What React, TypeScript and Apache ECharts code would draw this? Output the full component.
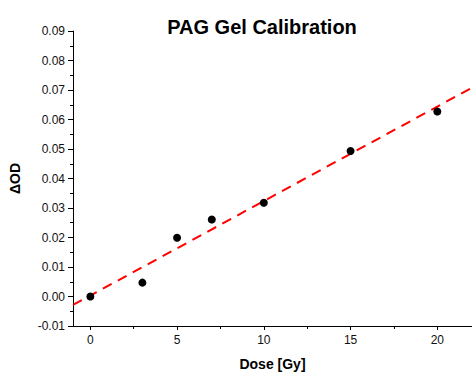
import React, { useEffect, useRef } from "react";
import * as echarts from "echarts";

const doses = [0, 3, 5, 7, 10, 15, 20];
const deltaOD = [0.0, 0.0047, 0.0199, 0.0261, 0.0318, 0.0493, 0.0627];
const xMajorTicks = [0, 5, 10, 15, 20];
const xMinorTicks = [2.5, 7.5, 12.5, 17.5];
const xRange = [-1, 22];

function fit(xs: number[], ys: number[]) {
  const n = xs.length;
  const mx = xs.reduce((a, b) => a + b, 0) / n;
  const my = ys.reduce((a, b) => a + b, 0) / n;
  let sxx = 0, sxy = 0;
  for (let i = 0; i < n; i++) {
    sxx += (xs[i] - mx) ** 2;
    sxy += (xs[i] - mx) * (ys[i] - my);
  }
  const slope = sxy / sxx;
  return { slope, intercept: my - slope * mx };
}

export default function App() {
  const ref = useRef<HTMLDivElement>(null);
  useEffect(() => {
    if (!ref.current) return;
    const chart = echarts.init(ref.current, null, { renderer: "svg" });
    const { slope, intercept } = fit(doses, deltaOD);
    const fitLine = xRange.map((x) => [x, intercept + slope * x]);
    const font = "'Liberation Sans', Arial, Helvetica, sans-serif";
    chart.setOption({
      animation: false,
      textStyle: { fontFamily: font },
      title: {
        text: "PAG Gel Calibration",
        left: 257,
        textAlign: "center",
        top: 12,
        textStyle: { fontFamily: font, fontSize: 20, fontWeight: "bold", color: "#000" },
      },
      grid: { left: 73, right: 0, top: 31, bottom: 44 },
      xAxis: [
        {
          type: "value",
          min: xRange[0],
          max: xRange[1],
          name: "Dose [Gy]",
          nameLocation: "middle",
          nameGap: 31,
          nameTextStyle: { fontFamily: font, fontSize: 14, fontWeight: "bold", color: "#000" },
          axisLine: { show: true, onZero: false, lineStyle: { color: "#000", width: 1 } },
          axisTick: { show: true, customValues: xMajorTicks, length: 4, lineStyle: { color: "#000" } },
          axisLabel: {
            customValues: xMajorTicks,
            fontFamily: font,
            fontSize: 12,
            color: "#111",
            margin: 8,
          },
          splitLine: { show: false },
        },
        {
          type: "value",
          min: xRange[0],
          max: xRange[1],
          position: "bottom",
          axisLine: { show: false, onZero: false },
          axisTick: { show: true, customValues: xMinorTicks, length: 3, lineStyle: { color: "#000" } },
          axisLabel: { show: false },
          splitLine: { show: false },
        },
      ],
      yAxis: {
        type: "value",
        min: -0.01,
        max: 0.09,
        interval: 0.01,
        name: "ΔOD",
        nameLocation: "middle",
        nameGap: 51,
        nameTextStyle: { fontFamily: font, fontSize: 14, fontWeight: "bold", color: "#000" },
        axisLine: { show: true, onZero: false, lineStyle: { color: "#000", width: 1 } },
        axisTick: { show: true, length: 5, lineStyle: { color: "#000" } },
        minorTick: { show: true, splitNumber: 2, length: 3, lineStyle: { color: "#000" } },
        axisLabel: {
          fontFamily: font,
          fontSize: 12,
          color: "#111",
          margin: 8,
          formatter: (v: number) => v.toFixed(2),
        },
        splitLine: { show: false },
      },
      series: [
        {
          type: "line",
          data: fitLine,
          showSymbol: false,
          symbol: "none",
          lineStyle: { color: "#ff0000", width: 2, type: [10, 7] },
          z: 1,
        },
        {
          type: "scatter",
          data: doses.map((d, i) => [d, deltaOD[i]]),
          symbol: "circle",
          symbolSize: 8,
          itemStyle: { color: "#000", opacity: 1 },
          z: 2,
        },
      ],
    });
    return () => chart.dispose();
  }, []);
  return (
    <div
      ref={ref}
      style={{ position: "fixed", left: 0, top: 0, width: 472, height: 376, background: "#fff" }}
    />
  );
}
